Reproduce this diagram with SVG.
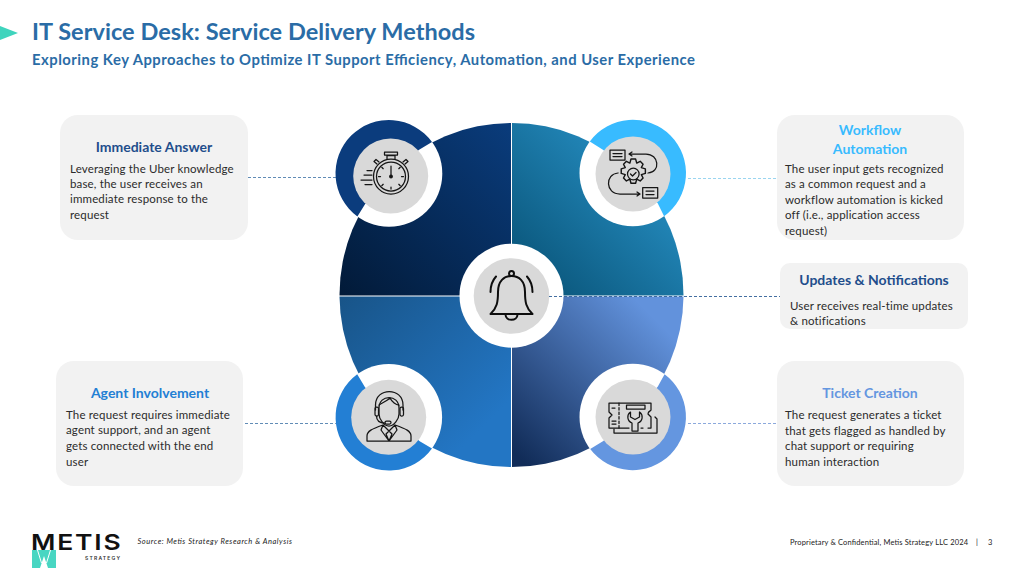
<svg xmlns="http://www.w3.org/2000/svg" width="1024" height="576" viewBox="0 0 1024 576">
<style>
text{font-family:"Lato","Liberation Sans",sans-serif}
.t{font-size:11.5px;fill:#2b2b2b;letter-spacing:.15px}
.h{font-size:14px;font-weight:700;text-anchor:middle}
.card{fill:#f2f2f2}
.g{fill:#d9d9d9}
.w{fill:#fff}
.i{fill:none;stroke:#151515;stroke-width:1.25;stroke-linecap:round;stroke-linejoin:round}
.c{fill:none;stroke-width:.9;stroke-dasharray:3 2}
.f{font-size:7.500px;fill:#222}
.l{font-family:Inter,"Liberation Sans",sans-serif}
</style>
<defs>
<linearGradient id="q1" x1="0" y1="1" x2="1" y2="0"><stop offset="0" stop-color="#021a38"/><stop offset="1" stop-color="#0a3c7c"/></linearGradient>
<linearGradient id="q2" x1="0" y1="1" x2="1" y2="0"><stop offset="0.15" stop-color="#0c5a80"/><stop offset="0.7" stop-color="#2286b8"/></linearGradient>
<linearGradient id="q3" x1="0" y1="0" x2="1" y2="1"><stop offset="0" stop-color="#185488"/><stop offset="0.8" stop-color="#2376c4"/></linearGradient>
<linearGradient id="q4" x1="0" y1="1" x2="1" y2="0"><stop offset="0.05" stop-color="#112c58"/><stop offset="0.85" stop-color="#6292dc"/></linearGradient>
</defs>
<rect width="1024" height="576" fill="#fff"/>
<polygon points="0,26 18,33 0,40" fill="#3fd4bd"/>
<text x="32" y="40" font-size="23.500" font-weight="700" fill="#2a6ca6" textLength="443">IT Service Desk: Service Delivery Methods</text>
<text x="32" y="65" font-size="14.800" font-weight="700" fill="#2a6ca6" textLength="663">Exploring Key Approaches to Optimize IT Support Efficiency, Automation, and User Experience</text>

<g id="connectors">
<path class="c" stroke="#4f7fae" d="M248 177.500H336"/>
<path class="c" stroke="#8fd0ee" d="M688 178.500H777"/>
<path class="c" stroke="#4f7fae" d="M245 423.500H336"/>
<path class="c" stroke="#7f9fd8" d="M688 423.500H777"/>
</g>

<g id="wheel">
<path fill="url(#q1)" d="M511 295.500H339.500A172 172 0 0 1 511 123Z"/>
<path fill="url(#q2)" d="M512 295.500H683.500A172 172 0 0 0 512 123Z"/>
<path fill="url(#q3)" d="M511 296.500H339.500A172 172 0 0 0 511 467Z"/>
<path fill="url(#q4)" d="M512 296.500H683.500A172 172 0 0 1 512 467Z"/>
</g>

<g id="node-immediate-icon">
<circle class="w" cx="389" cy="173.500" r="53.300"/>
<path fill="#0b3c7d" d="M432 142.100A53.300 53.300 0 1 0 357.400 216.400L365 204.300L418.700 150Z"/>
<circle class="g" cx="390.700" cy="176" r="37.500"/>
<g class="i">
<circle cx="391" cy="176.500" r="17.500"/><circle cx="391" cy="176.500" r="14.500"/>
<path d="M387 159V155.500H395V159M384.500 155h13v-2.800h-13ZM377 164l-3-2.500 2-2 3 2.500M405 164l3-2.500-2-2-3 2.500M391 176.500V166M391 187v2M378.500 176.500h2M401.500 176.500h2M381.800 167.300l1.400 1.400M400.200 167.300l-1.400 1.400M381.800 185.700l1.400-1.400M400.200 185.700l-1.400-1.400"/>
<circle cx="391" cy="176.500" r="1.300" fill="#151515"/>
<path d="M367 170.500h5M364 175h8M361 180h11M365 184.500h7"/>
</g>
</g>

<g id="node-workflow-icon">
<circle class="w" cx="632.800" cy="173" r="53.300"/>
<path fill="#38bbff" d="M589.800 141.500A53.300 53.300 0 1 1 664.100 216.200L657.700 203.300L603.300 150Z"/>
<circle class="g" cx="633" cy="174" r="37.500"/>
<g class="i">
<rect x="610" y="150" width="15" height="10"/><path d="M613 153.500h9M613 156.500h9"/>
<rect x="642.700" y="187.500" width="15" height="10.500"/><path d="M646 191h8M646 194.500h8"/>
<path d="M629 154H646C659 154 661 172 648 173M632 152l-3 2 3 2"/>
<path d="M618 173C605 174 605 194 620 194H640M637 192l3 2-3 2"/>
<path transform="translate(633.300 174) scale(1.150) translate(-633 -172)" d="M631 159h4l1 3.500 3-1.500 2.500 2.500-1.500 3 3.500 1v4l-3.500 1 1.500 3-2.500 2.500-3-1.500-1 3.500h-4l-1-3.500-3 1.500-2.500-2.500 1.500-3-3.500-1v-4l3.500-1-1.500-3 2.500-2.500 3 1.500Z"/>
<circle cx="633.300" cy="174" r="5.800"/><path d="M630.500 174l2 2 3.500-3.500"/>
</g>
</g>

<g id="node-agent-icon">
<circle class="w" cx="388.800" cy="417.200" r="53.300"/>
<path fill="#237fd4" d="M357.200 374.300A53.300 53.300 0 1 0 432 448.500L419.300 441L365 387.300Z"/>
<circle class="g" cx="388.700" cy="417.300" r="37.500"/>
<g class="i">
<path d="M375.500 410V405C375.500 387 403 387 403 405V410"/>
<path d="M379 408C379 394 399 394 399 408V414C399 419 394 426 389 426S379 419 379 414Z"/>
<path d="M379 405C384 402 388 400 390 398C392 402 396 405 399 405"/>
<rect x="375" y="407" width="3.500" height="9" rx="1.500"/><rect x="400" y="407" width="3.500" height="9" rx="1.500"/>
<path d="M376.500 416C376.500 421 379 423 385 423"/><rect x="385" y="421" width="6" height="3" rx="1.500"/>
<path d="M367 441V436C367 431 372 429 383 425L389 431L395 425C406 429 411 431 411 436V441ZM383 425L381 430L389 441L397 430L395 425M389 431L386 434L389 441L392 434Z"/>
</g>
</g>

<g id="node-ticket-icon">
<circle class="w" cx="632.800" cy="417" r="53.300"/>
<path fill="#6496e0" d="M664.600 374.200A53.300 53.300 0 1 1 590.200 449.100L603.300 441L657.700 386.700Z"/>
<circle class="g" cx="633" cy="417" r="37.500"/>
<g class="i">
<path d="M609 403H651V410C651 411 648 411 648 414L651 417 651 428H648M609 403V412L612 415L609 418V428H629M641 428H643"/>
<path d="M619 403V428" stroke-dasharray="2.500 2"/>
<path d="M614 429V433H657V419L655 417"/>
<rect x="626.500" y="405" width="18.500" height="4"/>
<path d="M630.500 412C626.500 415 627 421 632 423V431H638V423C643 421 643.500 415 639.500 412V417L635 419.500L630.500 417Z"/>
<path d="M612 408h3M612 421h4M612 424h4"/>
</g>
</g>

<g id="node-center-icon">
<circle class="w" cx="511.500" cy="295.700" r="52"/>
<circle class="g" cx="511.500" cy="296" r="37.800"/>
<g fill="none" stroke="#0d0d0d" stroke-width="2" stroke-linecap="round" stroke-linejoin="round">
<path d="M490.500 314C497 308 498 302 498 292C498 281 504 276 511.500 276S525 281 525 292C525 302 526 308 532.500 314Z"/>
<circle cx="511.500" cy="273.500" r="2.500"/>
<path d="M505.500 314.500C505.500 321.500 517.500 321.500 517.500 314.500"/>
<path d="M490.500 292C490.500 286 492 281 496 276.500M532.500 292C532.500 286 531 281 527 276.500"/>
</g>
</g>
<path class="c" stroke="#2f5f96" d="M549 296.500H780"/>

<g id="node-immediate">
<rect class="card" x="60" y="115" width="188" height="125" rx="18"/>
<text class="h" x="154" y="152" fill="#1f4e8c">Immediate Answer</text>
<text class="t" x="70" y="173">Leveraging the Uber knowledge</text>
<text class="t" x="70" y="188">base, the user receives an</text>
<text class="t" x="70" y="203">immediate response to the</text>
<text class="t" x="70" y="219">request</text>
</g>
<g id="node-workflow">
<rect class="card" x="777" y="115" width="187" height="125" rx="18"/>
<text class="h" x="870" y="135" fill="#38bbff">Workflow</text>
<text class="h" x="870" y="154" fill="#38bbff">Automation</text>
<text class="t" x="785" y="173">The user input gets recognized</text>
<text class="t" x="785" y="188">as a common request and a</text>
<text class="t" x="785" y="204">workflow automation is kicked</text>
<text class="t" x="785" y="219">off (i.e., application access</text>
<text class="t" x="785" y="235">request)</text>
</g>
<g id="node-updates">
<rect class="card" x="780" y="263" width="188" height="66" rx="10"/>
<text class="h" x="874" y="285" fill="#1f4e8c">Updates &amp; Notifications</text>
<text class="t" x="790" y="310">User receives real-time updates</text>
<text class="t" x="790" y="325">&amp; notifications</text>
</g>
<g id="node-agent">
<rect class="card" x="56" y="361" width="187" height="125" rx="18"/>
<text class="h" x="150" y="398" fill="#237fd4">Agent Involvement</text>
<text class="t" x="66" y="419">The request requires immediate</text>
<text class="t" x="66" y="434">agent support, and an agent</text>
<text class="t" x="66" y="450">gets connected with the end</text>
<text class="t" x="66" y="466">user</text>
</g>
<g id="node-ticket">
<rect class="card" x="777" y="361" width="187" height="125" rx="18"/>
<text class="h" x="870" y="398" fill="#6496e0">Ticket Creation</text>
<text class="t" x="785" y="419">The request generates a ticket</text>
<text class="t" x="785" y="435">that gets flagged as handled by</text>
<text class="t" x="785" y="450">chat support or requiring</text>
<text class="t" x="785" y="466">human interaction</text>
</g>

<g id="logo">
<rect x="32" y="550" width="24" height="18" fill="#48d6c2"/>
<path d="M40 568H48L44 556Z" fill="#fff"/>
<path d="M37.500 550L41.500 563M50.500 550L46.500 563" stroke="#fff" stroke-width="1" fill="none"/>
<text class="l" x="31" y="549.500" font-size="22" font-weight="600" fill="#111" letter-spacing="1.500" textLength="91.500" lengthAdjust="spacingAndGlyphs">METIS</text>
<text class="l" x="85" y="559.500" font-size="5" font-weight="600" fill="#333" textLength="35">STRATEGY</text>
</g>
<text class="f" x="137.500" y="543.500" font-style="italic" textLength="154.500">Source: Metis Strategy Research &amp; Analysis</text>
<text class="f" x="790" y="544.500" textLength="178">Proprietary &amp; Confidential, Metis Strategy LLC 2024</text>
<text class="f" x="976" y="544.500">|</text>
<text class="f" x="988" y="544.500">3</text>
</svg>
